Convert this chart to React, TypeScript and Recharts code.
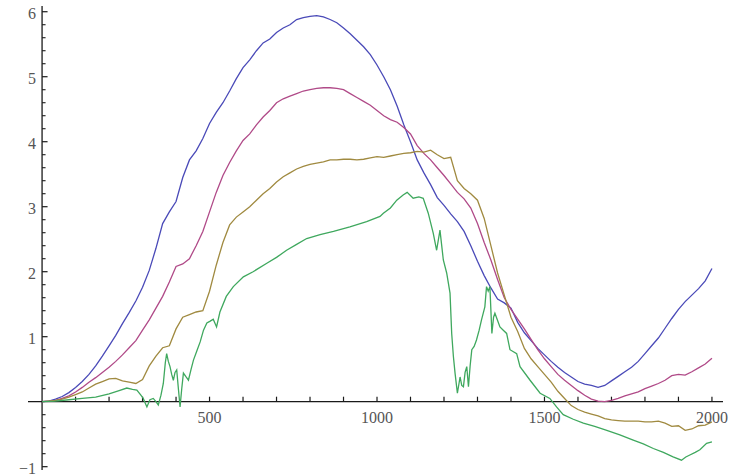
import React from 'react';
import { LineChart, Line, XAxis, YAxis, ReferenceLine, ReferenceDot } from 'recharts';

// sampling positions (x) for the three smoother series
const xGrid = [
  0, 20, 40, 60, 80, 100, 120, 140, 160, 180,
  200, 220, 240, 260, 280, 300, 320, 340, 360, 380,
  400, 420, 440, 460, 480, 500, 520, 540, 560, 580,
  600, 620, 640, 660, 680, 700, 720, 740, 760, 780,
  800, 820, 840, 860, 880, 900, 920, 940, 960, 980,
  1000, 1020, 1040, 1060, 1080, 1100, 1120, 1140, 1160, 1180,
  1200, 1220, 1240, 1260, 1280, 1300, 1320, 1340, 1360, 1380,
  1400, 1420, 1440, 1460, 1480, 1500, 1520, 1540, 1560, 1580,
  1600, 1620, 1640, 1660, 1680, 1700, 1720, 1740, 1760, 1780,
  1800, 1820, 1840, 1860, 1880, 1900, 1920, 1940, 1960, 1980,
  2000,
];

const blueValues = [
  0.00, 0.01, 0.04, 0.08, 0.14, 0.22, 0.31, 0.42, 0.55, 0.70,
  0.86, 1.02, 1.20, 1.37, 1.55, 1.76, 2.02, 2.36, 2.74, 2.92,
  3.08, 3.45, 3.72, 3.86, 4.05, 4.28, 4.45, 4.60, 4.78, 4.97,
  5.14, 5.26, 5.40, 5.52, 5.58, 5.68, 5.75, 5.80, 5.88, 5.91,
  5.93, 5.94, 5.92, 5.88, 5.83, 5.75, 5.66, 5.56, 5.46, 5.34,
  5.18, 5.00, 4.80, 4.55, 4.26, 4.00, 3.72, 3.52, 3.34, 3.14,
  3.02, 2.89, 2.77, 2.62, 2.40, 2.16, 1.94, 1.75, 1.58, 1.52,
  1.44, 1.22, 1.06, 0.94, 0.82, 0.72, 0.62, 0.53, 0.45, 0.38,
  0.31, 0.27, 0.25, 0.22, 0.25, 0.32, 0.39, 0.46, 0.53, 0.62,
  0.74, 0.86, 0.98, 1.13, 1.28, 1.42, 1.54, 1.64, 1.74, 1.86,
  2.05,
];

const magentaValues = [
  0.00, 0.01, 0.02, 0.05, 0.09, 0.15, 0.22, 0.30, 0.37, 0.45,
  0.53, 0.62, 0.72, 0.83, 0.94, 1.10, 1.26, 1.44, 1.62, 1.84,
  2.08, 2.12, 2.20, 2.40, 2.62, 2.92, 3.22, 3.48, 3.68, 3.86,
  4.02, 4.12, 4.26, 4.38, 4.48, 4.60, 4.66, 4.70, 4.74, 4.78,
  4.80, 4.82, 4.83, 4.83, 4.82, 4.80, 4.74, 4.68, 4.62, 4.56,
  4.48, 4.40, 4.34, 4.30, 4.22, 4.12, 3.94, 3.82, 3.72, 3.60,
  3.48, 3.35, 3.22, 3.12, 2.98, 2.74, 2.45, 2.18, 1.88, 1.60,
  1.42, 1.27, 1.12, 0.96, 0.80, 0.66, 0.54, 0.42, 0.33, 0.25,
  0.17, 0.10, 0.04, 0.01, 0.00, 0.02, 0.05, 0.09, 0.12, 0.15,
  0.20, 0.24, 0.28, 0.33, 0.40, 0.42, 0.41, 0.46, 0.52, 0.58,
  0.67,
];

const oliveValues = [
  0.00, 0.01, 0.02, 0.04, 0.07, 0.11, 0.15, 0.21, 0.27, 0.31,
  0.35, 0.36, 0.32, 0.30, 0.28, 0.34, 0.55, 0.70, 0.83, 0.86,
  1.12, 1.30, 1.34, 1.38, 1.40, 1.70, 2.10, 2.45, 2.72, 2.84,
  2.92, 3.00, 3.10, 3.20, 3.28, 3.38, 3.46, 3.52, 3.58, 3.62,
  3.65, 3.67, 3.69, 3.72, 3.72, 3.73, 3.73, 3.72, 3.73, 3.75,
  3.77, 3.76, 3.78, 3.80, 3.82, 3.83, 3.85, 3.84, 3.87, 3.80,
  3.74, 3.76, 3.40, 3.28, 3.20, 3.10, 2.82, 2.40, 1.98, 1.64,
  1.30, 1.08, 0.82, 0.66, 0.54, 0.42, 0.30, 0.16, 0.05, -0.06,
  -0.12, -0.16, -0.19, -0.22, -0.26, -0.28, -0.29, -0.30, -0.30, -0.30,
  -0.31, -0.31, -0.30, -0.33, -0.38, -0.37, -0.44, -0.42, -0.37, -0.36,
  -0.31,
];

// the green series is much noisier, so it keeps its own sampling positions
const greenX = [
  0, 40, 80, 120, 160, 200, 230, 253, 270, 283,
  295, 302, 313, 322, 332, 340, 347, 355, 362, 368,
  372, 377, 382, 387, 392, 397, 402, 407, 412, 417,
  422, 430, 437, 445, 452, 462, 472, 482, 492, 502,
  511, 521, 531, 550, 571, 601, 630, 671, 700, 730,
  760, 790, 830, 870, 919, 969, 1009, 1019, 1040, 1059,
  1078, 1090, 1108, 1125, 1138, 1153, 1168, 1178, 1188, 1198,
  1208, 1218, 1223, 1228, 1233, 1240, 1248, 1253, 1258, 1263,
  1268, 1273, 1278, 1283, 1290, 1297, 1305, 1312, 1322, 1327,
  1332, 1337, 1343, 1348, 1352, 1360, 1367, 1377, 1387, 1397,
  1417, 1427, 1457, 1487, 1516, 1536, 1556, 1586, 1616, 1650,
  1686, 1725, 1765, 1795, 1825, 1855, 1884, 1909, 1922, 1934,
  1950, 1964, 1984, 2000,
];
const greenValues = [
  0.00, 0.01, 0.03, 0.05, 0.07, 0.12, 0.17, 0.21, 0.19, 0.18,
  0.10, 0.05, -0.08, 0.03, 0.05, 0.00, -0.05, 0.10, 0.28, 0.60,
  0.74, 0.62, 0.54, 0.42, 0.33, 0.45, 0.49, 0.20, -0.08, 0.20,
  0.44, 0.38, 0.33, 0.50, 0.64, 0.78, 0.92, 1.10, 1.21, 1.24,
  1.27, 1.15, 1.38, 1.62, 1.77, 1.92, 2.00, 2.13, 2.22, 2.33,
  2.42, 2.51, 2.57, 2.62, 2.69, 2.77, 2.85, 2.90, 2.98, 3.10,
  3.18, 3.22, 3.13, 3.15, 3.13, 2.90, 2.59, 2.33, 2.64, 2.18,
  1.98, 1.67, 1.05, 0.70, 0.44, 0.13, 0.38, 0.25, 0.23, 0.45,
  0.54, 0.23, 0.55, 0.80, 0.85, 0.95, 1.10, 1.26, 1.46, 1.77,
  1.70, 1.77, 1.05, 1.30, 1.36, 1.25, 1.15, 1.10, 1.05, 0.80,
  0.74, 0.54, 0.33, 0.13, 0.05, -0.08, -0.20, -0.27, -0.33, -0.38,
  -0.44, -0.51, -0.59, -0.65, -0.72, -0.78, -0.85, -0.90, -0.85, -0.82,
  -0.78, -0.74, -0.64, -0.62,
];

// axis ticks
const xTickValues = [
  100, 200, 300, 400, 500, 600, 700, 800, 900, 1000,
  1100, 1200, 1300, 1400, 1500, 1600, 1700, 1800, 1900, 2000,
];
const xTickLabels = ['500', '1000', '1500', '2000'];
const xTickLabelValues = [500, 1000, 1500, 2000];
const yMajorTicks = [-1, 1, 2, 3, 4, 5, 6];
const yMinorTicks = [
  -0.8, -0.6, -0.4, -0.2, 0.2, 0.4, 0.6, 0.8, 1.2, 1.4, 1.6, 1.8,
  2.2, 2.4, 2.6, 2.8, 3.2, 3.4, 3.6, 3.8, 4.2, 4.4, 4.6, 4.8,
  5.2, 5.4, 5.6, 5.8,
];
const yTickLabels = ['\u22121', '1', '2', '3', '4', '5', '6'];

const mainData = xGrid.map((x, i) => ({
  x,
  blue: blueValues[i],
  magenta: magentaValues[i],
  olive: oliveValues[i],
}));
const greenData = greenX.map((x, i) => ({ x, green: greenValues[i] }));

const X_DOMAIN: [number, number] = [-42, 2033];
const Y_DOMAIN: [number, number] = [-1.051, 6.088];
// tick lengths expressed in data units (px / px-per-unit)
const X_TICK_LEN = 5 / 65;
const Y_MAJOR_LEN = 5.5 / 0.335;
const Y_MINOR_LEN = 3.5 / 0.335;

const AXIS = '#1a1a1a';
const labelCss: React.CSSProperties = {
  fontFamily: '"Liberation Serif", "Times New Roman", "DejaVu Serif", serif',
  fontSize: 16,
  fill: '#555555',
};

const makeXLabel = (text: string) => (props: any) => {
  const vb = props.viewBox || {};
  const cx = (vb.x ?? 0) + (vb.width ?? 0) / 2;
  const cy = (vb.y ?? 0) + (vb.height ?? 0) / 2;
  return (
    <text x={cx} y={cy + 21} textAnchor="middle" style={labelCss}>
      {text}
    </text>
  );
};

const makeYLabel = (text: string) => (props: any) => {
  const vb = props.viewBox || {};
  const cx = (vb.x ?? 0) + (vb.width ?? 0) / 2;
  const cy = (vb.y ?? 0) + (vb.height ?? 0) / 2;
  return (
    <text x={cx - 6} y={cy + 7.5} textAnchor="end" style={labelCss}>
      {text}
    </text>
  );
};

export default function App() {
  return (
    <div style={{ position: 'absolute', left: 0, top: 0, width: 732, height: 476, background: '#ffffff' }}>
      <LineChart width={732} height={476} data={mainData} margin={{ top: 6, right: 9, bottom: 6, left: 28 }}>
        <XAxis type="number" dataKey="x" domain={X_DOMAIN} allowDataOverflow hide height={0} />
        <YAxis type="number" domain={Y_DOMAIN} allowDataOverflow hide width={0} />

        <ReferenceLine y={0} stroke={AXIS} strokeWidth={1.3} />
        <ReferenceLine x={0} stroke={AXIS} strokeWidth={1.3} />

        {xTickValues.map((t) => (
          <ReferenceLine
            key={`xt${t}`}
            segment={[{ x: t, y: 0 }, { x: t, y: X_TICK_LEN }]}
            stroke={AXIS}
            strokeWidth={1.2}
          />
        ))}
        {yMajorTicks.map((t) => (
          <ReferenceLine
            key={`ym${t}`}
            segment={[{ x: 0, y: t }, { x: Y_MAJOR_LEN, y: t }]}
            stroke={AXIS}
            strokeWidth={1.2}
          />
        ))}
        {yMinorTicks.map((t) => (
          <ReferenceLine
            key={`yn${t}`}
            segment={[{ x: 0, y: t }, { x: Y_MINOR_LEN, y: t }]}
            stroke={AXIS}
            strokeWidth={1.1}
          />
        ))}

        {xTickLabelValues.map((t, i) => (
          <ReferenceDot
            key={`xl${t}`}
            x={t}
            y={0}
            r={0}
            fill="none"
            stroke="none"
            label={makeXLabel(xTickLabels[i])}
          />
        ))}
        {yMajorTicks.map((t, i) => (
          <ReferenceDot
            key={`yl${t}`}
            x={0}
            y={t}
            r={0}
            fill="none"
            stroke="none"
            label={makeYLabel(yTickLabels[i])}
          />
        ))}

        <Line type="linear" dataKey="blue" stroke="#4a4ab8" strokeWidth={1.3} dot={false} isAnimationActive={false} />
        <Line type="linear" dataKey="magenta" stroke="#b04a88" strokeWidth={1.3} dot={false} isAnimationActive={false} />
        <Line type="linear" dataKey="olive" stroke="#a08a40" strokeWidth={1.3} dot={false} isAnimationActive={false} />
        <Line
          type="linear"
          data={greenData}
          dataKey="green"
          stroke="#3fa85e"
          strokeWidth={1.3}
          dot={false}
          isAnimationActive={false}
        />
      </LineChart>
    </div>
  );
}
